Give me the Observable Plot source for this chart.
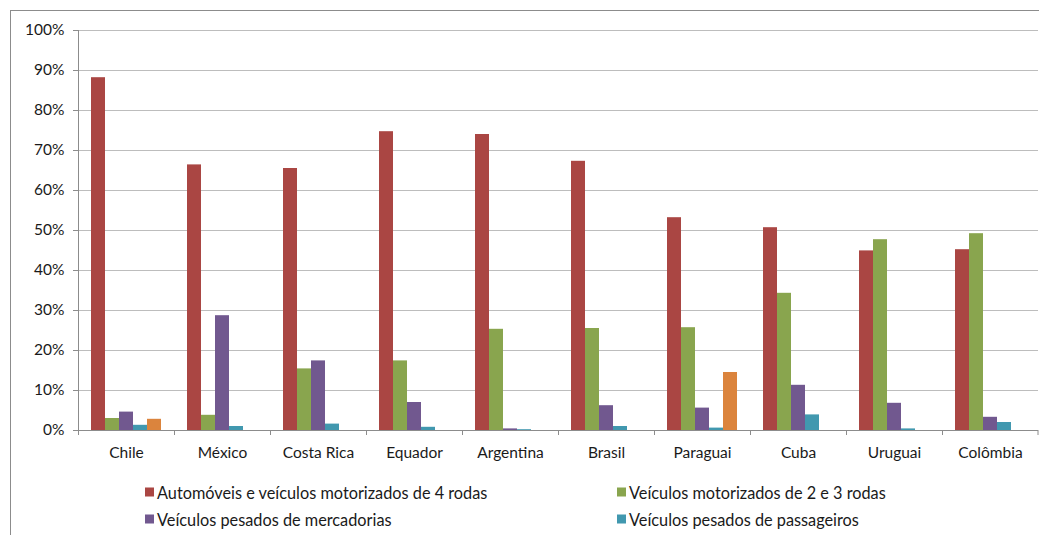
<!DOCTYPE html>
<html>
<head>
<meta charset="utf-8">
<script src="https://cdn.jsdelivr.net/npm/d3@7"></script>
<script src="https://cdn.jsdelivr.net/npm/@observablehq/plot@0.6"></script>
<style>
  html, body { margin: 0; padding: 0; background: #fff; }
  #wrap { position: relative; width: 1039px; height: 535px; overflow: hidden; font-family: Lato, "Liberation Sans", sans-serif; }
  #frame { position: absolute; left: 10px; top: 10px; width: 1100px; height: 600px; border: 1px solid #8c8c8c; box-sizing: border-box; }
  #chart { position: absolute; left: 0; top: 0; }
  #legend { position: absolute; left: 0; top: 0; width: 1039px; height: 535px; pointer-events: none; }
  .item { position: absolute; display: flex; align-items: center; font-size: 16.3px; color: #1a1a1a; white-space: nowrap; transform: translateY(-50%); }
  .sw { width: 9px; height: 9px; margin-right: 3px; flex: none; }
</style>
</head>
<body>
<div id="wrap">
  <div id="frame"></div>
  <div id="chart"></div>
  <div id="legend"></div>
</div>
<script>
const countries = ["Chile", "México", "Costa Rica", "Equador", "Argentina", "Brasil", "Paraguai", "Cuba", "Uruguai", "Colômbia"];
const series = [
  "Automóveis e veículos motorizados de 4 rodas",
  "Veículos motorizados de 2 e 3 rodas",
  "Veículos pesados de mercadorias",
  "Veículos pesados de passageiros",
  "Outros"
];
const autos       = [88.2, 66.4, 65.5, 74.7, 74.0, 67.3, 53.2, 50.7, 44.9, 45.2];
const motos       = [3.0, 3.8, 15.4, 17.4, 25.3, 25.5, 25.7, 34.3, 47.7, 49.2];
const mercadorias = [4.6, 28.7, 17.4, 7.0, 0.4, 6.2, 5.6, 11.3, 6.8, 3.3];
const passageiros = [1.3, 1.0, 1.6, 0.8, 0.2, 1.0, 0.6, 3.9, 0.4, 2.0];
const outros      = [2.8, 0, 0, 0, 0, 0, 14.5, 0, 0, 0];
const colors = ["#AA4643", "#89A54E", "#71588F", "#4198AF", "#DB843D"];
const yTicks = [0, 10, 20, 30, 40, 50, 60, 70, 80, 90, 100];
const legendSeries = series.slice(0, 4);

const valuesBySeries = [autos, motos, mercadorias, passageiros, outros];
const table = [];
countries.forEach((c, i) => {
  series.forEach((s, j) => {
    table.push({country: c, series: s, value: valuesBySeries[j][i]});
  });
});

const axisColor = "#8c8c8c";
const chart = Plot.plot({
  width: 1039,
  height: 470,
  marginLeft: 78,
  marginRight: 1,
  marginTop: 30,
  marginBottom: 40,
  style: {background: "transparent", fontFamily: "Lato, 'Liberation Sans', sans-serif", color: "#1a1a1a"},
  fx: {domain: countries, padding: 0, label: null, axis: null},
  x: {domain: series, paddingInner: 0, paddingOuter: 0.78, axis: null},
  y: {domain: [0, 100], axis: null},
  color: {domain: series, range: colors},
  marks: [
    Plot.gridY(yTicks.filter(d => d > 0), {stroke: "#bdbdbd", strokeOpacity: 1}),
    Plot.axisY(yTicks, {tickFormat: d => d + "%", tickSize: 5, tickPadding: 9, stroke: axisColor, fontSize: 15.5, label: null}),
    Plot.barY(table, {fx: "country", x: "series", y: "value", fill: "series"}),
    Plot.ruleY([0], {stroke: axisColor}),
    Plot.ruleX(["Chile"], {fx: d => d, x: null, dx: -48, y1: 0, y2: 100, stroke: axisColor}),
    Plot.ruleX(countries, {fx: d => d, x: null, dx: -48, y1: 0, y2: -1.25, stroke: axisColor}),
    Plot.ruleX(["Colômbia"], {fx: d => d, x: null, dx: 47.5, y1: 0, y2: -1.25, stroke: axisColor}),
    Plot.axisFx({anchor: "bottom", tickSize: 0, tickPadding: 16, label: null, fontSize: 15.5})
  ]
});
document.getElementById("chart").appendChild(chart);

const legend = document.getElementById("legend");
const pos = [[145, 492], [617, 492], [145, 519], [617, 519]];
legendSeries.forEach((s, i) => {
  const item = document.createElement("div");
  item.className = "item";
  item.style.left = pos[i][0] + "px";
  item.style.top = pos[i][1] + "px";
  const sw = document.createElement("span");
  sw.className = "sw";
  sw.style.background = colors[series.indexOf(s)];
  const t = document.createElement("span");
  t.textContent = s;
  item.appendChild(sw);
  item.appendChild(t);
  legend.appendChild(item);
});
</script>
</body>
</html>
